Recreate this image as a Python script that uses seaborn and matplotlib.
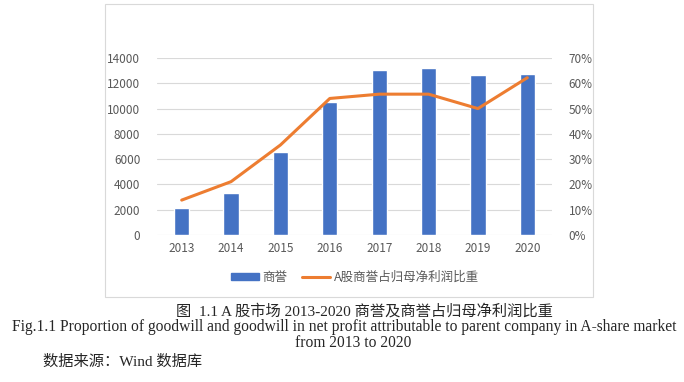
import numpy as np
import seaborn as sns
import matplotlib.pyplot as plt
from matplotlib.patches import Rectangle
from matplotlib.lines import Line2D

# data
years = ['2013', '2014', '2015', '2016', '2017', '2018', '2019', '2020']
goodwill = [2100, 3320, 6530, 10540, 13040, 13200, 12650, 12730]
ratio = [0.138, 0.211, 0.356, 0.540, 0.557, 0.557, 0.500, 0.622]

left_ticks = [0, 2000, 4000, 6000, 8000, 10000, 12000, 14000]
right_ticks = [0, 0.1, 0.2, 0.3, 0.4, 0.5, 0.6, 0.7]

bar_label = '商誉'
line_label = 'A股商誉占归母净利润比重'
caption_cn = '图  1.1 A 股市场 2013-2020 商誉及商誉占归母净利润比重'
caption_en1 = 'Fig.1.1 Proportion of goodwill and goodwill in net profit attributable to parent company in A-share market'
caption_en2 = 'from 2013 to 2020'
source = '数据来源：Wind 数据库'

sns.set_style('white')
plt.rcParams['font.family'] = ['Noto Sans CJK SC', 'DejaVu Sans']

blue = '#4472C4'
orange = '#ED7D31'
tick_color = '#595959'

fig = plt.figure(figsize=(6.84, 3.82), dpi=100)

# light border around the chart area, like the Excel chart frame
fig.patches.append(Rectangle((105 / 684, 1 - 297 / 382), 488 / 684, 293 / 382,
                             transform=fig.transFigure, fill=False,
                             edgecolor='#D9D9D9', linewidth=0.8))

ax = fig.add_axes([157 / 684, 1 - 235 / 382, 395 / 684, 177 / 382])
sns.barplot(x=years, y=goodwill, color=blue, width=0.31, ax=ax, saturation=1)
ax.set_xlim(-0.5, len(years) - 0.5)
ax.set_ylim(0, 14000)
ax.set_yticks(left_ticks)
ax.set_yticklabels([str(v) for v in left_ticks])
ax.yaxis.grid(True, color='#D9D9D9', linewidth=0.8)
ax.set_axisbelow(True)
for s in ax.spines.values():
    s.set_visible(False)
ax.tick_params(axis='both', length=0, labelsize=8.5, colors=tick_color)
ax.tick_params(axis='x', pad=5)
ax.tick_params(axis='y', pad=12)

ax2 = ax.twinx()
sns.lineplot(x=np.arange(len(years)), y=ratio, color=orange, linewidth=2.2, ax=ax2)
ax2.set_ylim(0, 0.7)
ax2.set_yticks(right_ticks)
ax2.set_yticklabels([f'{int(round(v * 100))}%' for v in right_ticks])
for s in ax2.spines.values():
    s.set_visible(False)
ax2.tick_params(axis='y', length=0, labelsize=8.5, colors=tick_color, pad=12)
ax2.set_xlim(-0.5, len(years) - 0.5)

handles = [Rectangle((0, 0), 1, 1, color=blue),
           Line2D([0], [0], color=orange, linewidth=2.2)]
fig.legend(handles, [bar_label, line_label], loc='center',
           bbox_to_anchor=(355 / 684, 1 - 277 / 382), ncol=2, frameon=False,
           fontsize=9, labelcolor=tick_color, handlelength=2.2,
           handleheight=0.5, handletextpad=0.3, columnspacing=1.2)

serif = ['Liberation Serif', 'Noto Sans CJK SC']
fig.text(364 / 684, 1 - 311 / 382, caption_cn, ha='center', va='center',
         fontsize=11, family=serif)
fig.text(344 / 684, 1 - 327 / 382, caption_en1, ha='center', va='center',
         fontsize=11.2, family=serif)
fig.text(353 / 684, 1 - 343 / 382, caption_en2, ha='center', va='center',
         fontsize=11.2, family=serif)
fig.text(43 / 684, 1 - 362 / 382, source, ha='left', va='center',
         fontsize=11, family=serif)

fig.savefig('out.png', dpi=100)
